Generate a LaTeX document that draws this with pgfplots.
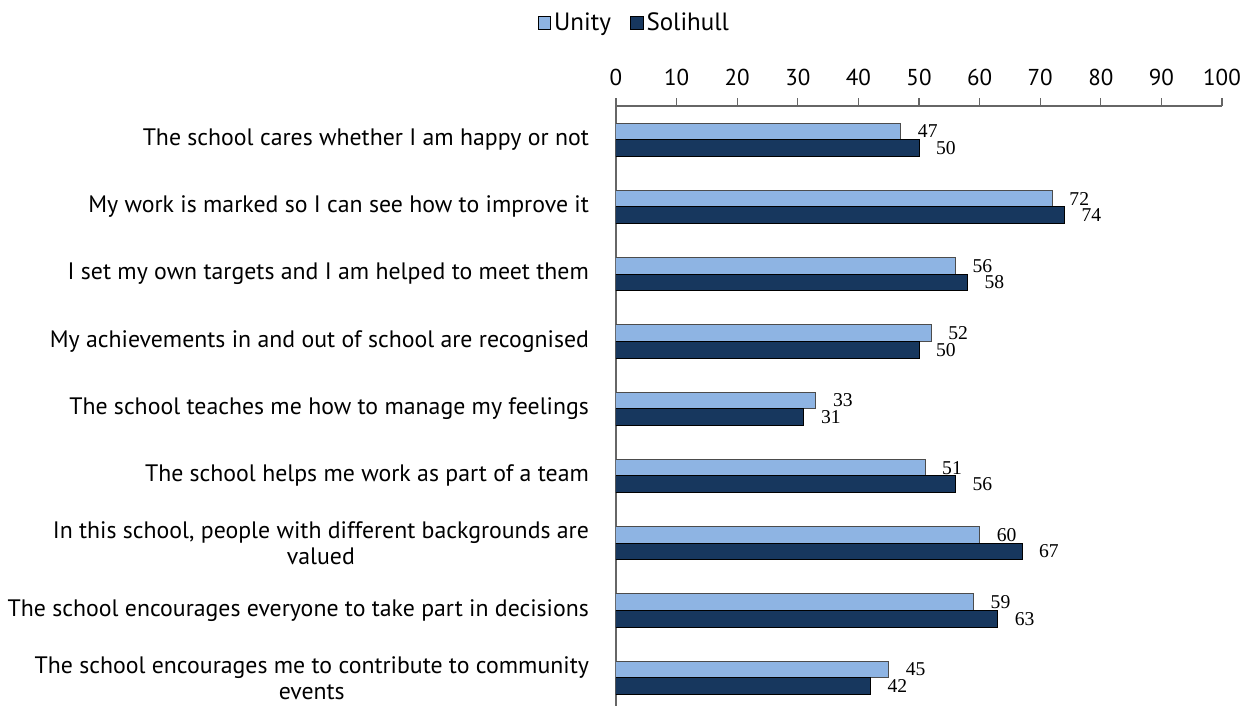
\documentclass[border=0pt]{standalone}
\usepackage{pgfplots}
\pgfplotsset{compat=1.18}
\usepackage{fontspec}
\setmainfont{PT Sans}
\newfontfamily\valfont{Liberation Serif}
\definecolor{unity}{HTML}{8EB4E3}
\definecolor{soli}{HTML}{17375E}
\begin{document}
\begin{tikzpicture}
\useasboundingbox (-308pt,-300pt) rectangle (317.5pt,53pt);
\begin{axis}[
  at={(0,0)}, anchor=north west,
  scale only axis, width=303pt, height=300pt,
  xbar=0pt, bar width=8.3pt,
  xmin=0, xmax=100, xtick={0,10,...,100},
  ymin=-0.5, ymax=8.42, y dir=reverse,
  ytick={0,...,8},
  yticklabels={The school cares whether I am happy or not,
    My work is marked so I can see how to improve it,
    I set my own targets and I am helped to meet them,
    My achievements in and out of school are recognised,
    The school teaches me how to manage my feelings,
    The school helps me work as part of a team,
    {In this school, people with different backgrounds are\\valued},
    The school encourages everyone to take part in decisions,
    {The school encourages me to contribute to community\\events}},
  axis x line*=top, axis y line*=left,
  axis line style={-, black!60, line width=0.6pt},
  x tick style={black!60, line width=0.6pt}, tick align=outside, major tick length=4pt,
  ytick style={draw=none},
  /pgf/number format/assume math mode=true,
  xticklabel style={font=\fontsize{11.5pt}{13pt}\selectfont, yshift=2.5pt},
  yticklabel style={font=\fontsize{11.9pt}{13pt}\selectfont, align=center, xshift=-6pt},
  nodes near coords,
  nodes near coords style={font=\valfont\fontsize{9.8pt}{11pt}\selectfont, anchor=west, xshift=5pt, text=black},
  legend style={at={(0.031,1)}, anchor=center, yshift=41.5pt, draw=none,
    legend columns=2, font=\fontsize{12.5pt}{14pt}\selectfont,
    /tikz/every even column/.append style={column sep=8pt},
    nodes={inner sep=1.5pt}},
  legend image code/.code={\draw[#1, draw=black, line width=0.4pt] (0pt,-3.2pt) rectangle (6.4pt,3.2pt);},
]
\addplot[fill=unity, draw=black!70, line width=0.5pt, bar shift=4.15pt] coordinates {(47,0) (72,1) (56,2) (52,3) (33,4) (51,5) (60,6) (59,7) (45,8)};
\addplot[fill=soli, draw=black, line width=0.5pt, bar shift=-4.15pt] coordinates {(50,0) (74,1) (58,2) (50,3) (31,4) (56,5) (67,6) (63,7) (42,8)};
\legend{Unity, Solihull}
\end{axis}
\end{tikzpicture}
\end{document}
